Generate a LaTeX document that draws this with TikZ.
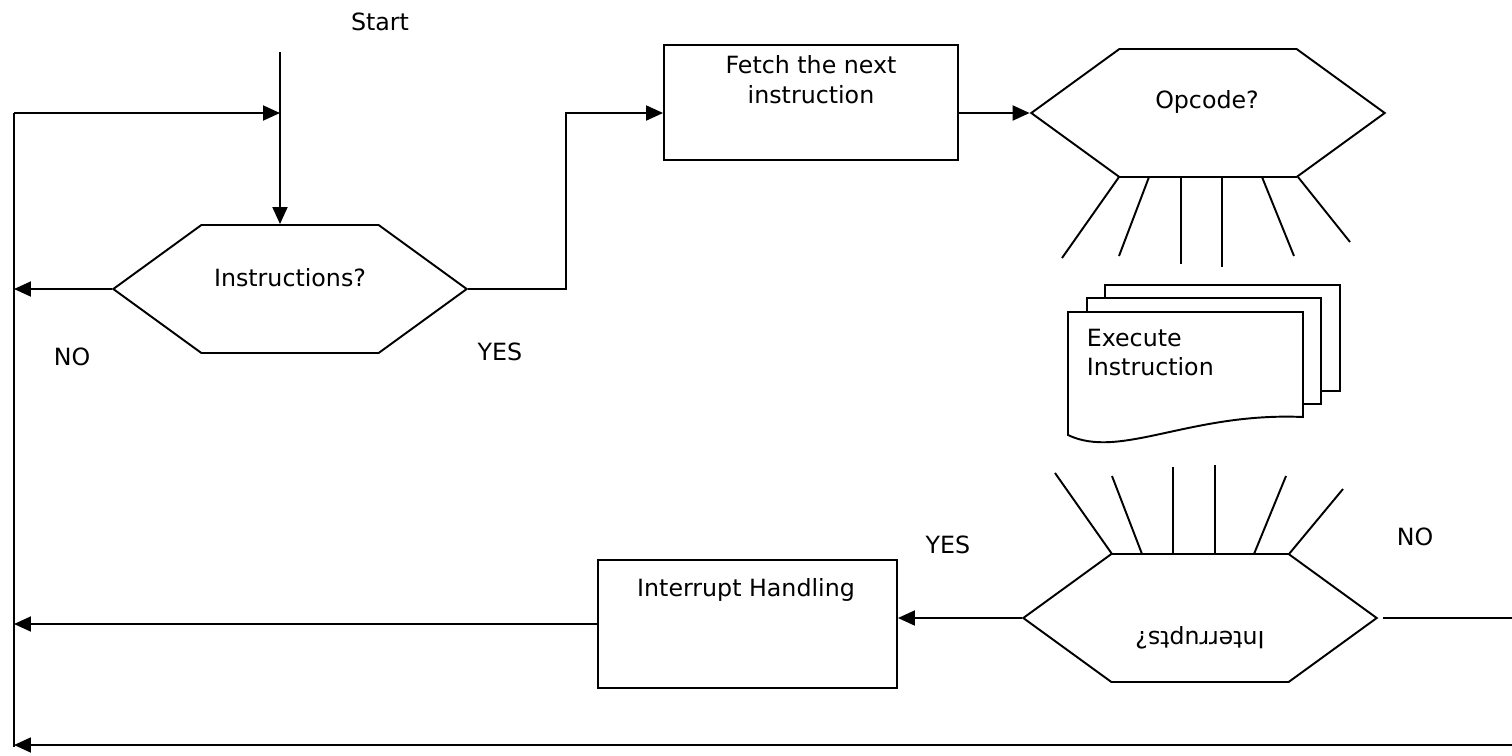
\documentclass[tikz,border=0pt]{standalone}
\usepackage{fontspec}
\setmainfont{DejaVu Sans}
\usetikzlibrary{arrows.meta,shapes.symbols}
\begin{document}
\begin{tikzpicture}[
    x=0.02cm, y=-0.02cm,
    line width=1.1pt,
    every node/.style={align=center, font=\fontsize{13.5}{17}\selectfont},
    arr/.style={-{Triangle[length=0.34cm,width=0.3cm]}},
    box/.style={draw, minimum width=5.9cm, minimum height=2.4cm, inner sep=0pt},
    hexa/.style={draw, signal, signal to=west and east, signal pointer angle=72,
      minimum width=7.07cm, minimum height=2.56cm, inner sep=0pt},
    page/.style={draw, fill=white}
  ]
    \useasboundingbox (0,0) rectangle (1512,755);
    % decisions and steps
    \node[hexa] (instr) at (290,289) {};
    \node (instrtxt) at (290,278) {Instructions?};
    \node[box, minimum width=5.88cm, minimum height=2.3cm] (fetch) at (811,102.5) {};
    \node (fetchtxt) at (811,80) {Fetch the next\\instruction};
    \node[hexa] (opcode) at (1208,113) {};
    \node (opcodetxt) at (1207,102) {Opcode?};
    \node[hexa] (intr) at (1200,618) {};
    \node[rotate=180] (intrtxt) at (1200,638) {Interrupts?};
    \node[box, minimum width=5.98cm, minimum height=2.56cm] (handle) at (747.5,624) {};
    \node (handletxt) at (746,590) {Interrupt Handling};
    % stacked pages
    \draw (1105,298) -- (1105,285) -- (1340,285) -- (1340,391) -- (1321,391);
    \draw (1087,312) -- (1087,298) -- (1321,298) -- (1321,404) -- (1303,404);
    \draw[page] (1068,312) -- (1303,312) -- (1303,417)
      .. controls (1190,412) and (1120,460) .. (1068,435) -- cycle;
    \node[align=left, anchor=north west] (exec) at (1080,322) {Execute\\Instruction};
    % labels
    \node (start) at (380,22) {Start};
    \node (no1) at (72,357) {NO};
    \node (yes1) at (500,352) {YES};
    \node (yes2) at (948,545) {YES};
    \node (no2) at (1415,537) {NO};
    % free ends
    \coordinate (top) at (280,52);
    \coordinate (rail) at (14,113);
    \coordinate (railbot) at (14,747);
    \coordinate (jog) at (566,113);
    \coordinate (outR) at (1512,618);
    \coordinate (botR) at (1512,745);
    % connectors
    \draw (rail) -- (railbot);
    \draw[arr] (rail) -- (top |- rail);
    \draw[arr] (top) -- (top |- instr.north);
    \draw[arr] (instr.west) -- (instr.west -| rail);
    \draw[arr] (instr.east) -| (jog) -- (jog -| fetch.west);
    \draw[arr] (fetch.east |- opcode.west) -- (opcode.west);
    \draw[arr] (intr.west) -- (intr.west -| handle.east);
    \draw[arr] (handle.west) -- (handle.west -| rail);
    \draw ([xshift=0.1cm]intr.east) -- (outR |- intr.east);
    \draw[arr] (botR) -- (botR -| rail);
    % rays
    \foreach \a/\b/\c/\d in {1119/177/1062/258, 1149/177/1119/256, 1181/177/1181/264,
        1222/177/1222/267, 1262/177/1294/256, 1298/177/1350/242}
      \draw (\a,\b) -- (\c,\d);
    \foreach \a/\b/\c/\d in {1112/554/1055/473, 1142/554/1112/476, 1173/554/1173/467,
        1215/554/1215/465, 1254/554/1286/476, 1289/554/1343/489}
      \draw (\a,\b) -- (\c,\d);
  \end{tikzpicture}
\end{document}
